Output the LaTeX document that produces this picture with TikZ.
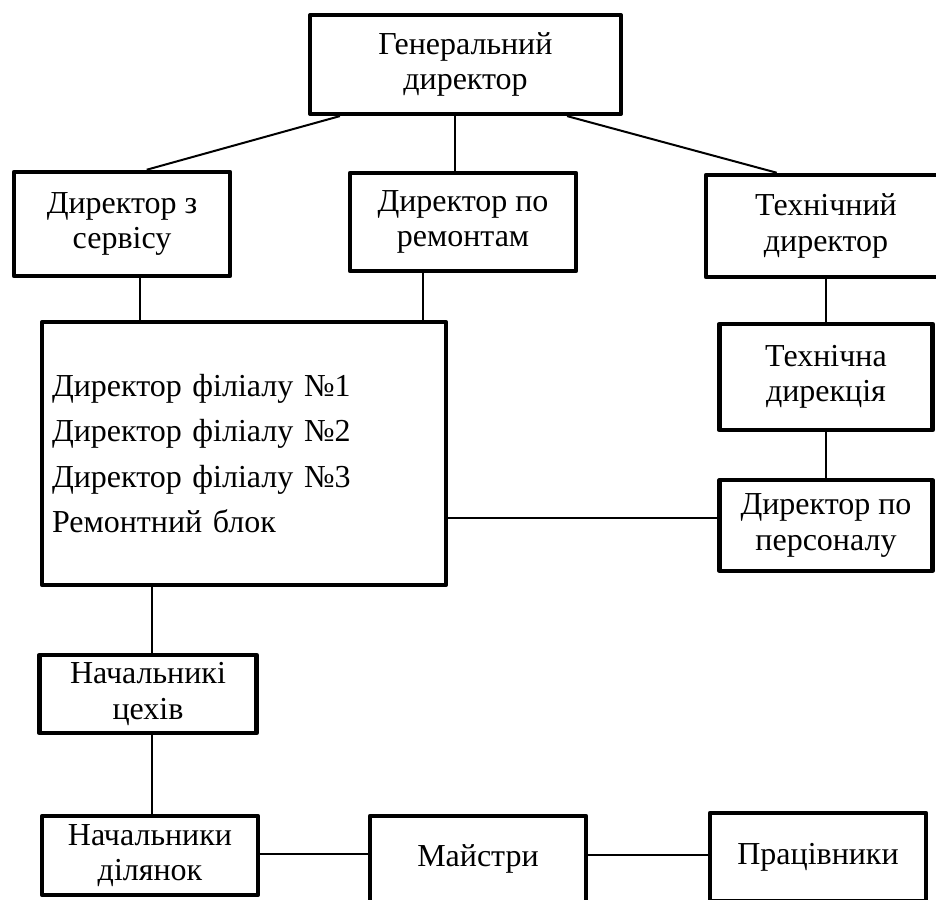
\documentclass[tikz,border=0pt]{standalone}
\usepackage{fontspec}
\setmainfont{Liberation Serif}
\usepackage{tikz}
\usetikzlibrary{positioning,calc}

\begin{document}
\begin{tikzpicture}[
    x=0.75pt, y=-0.75pt,
    orgbox/.style={rectangle, draw=black, line width=3.4pt, line join=round,
                 inner sep=2pt, align=center,
                 font=\fontsize{24}{26.5}\selectfont},
    conn/.style={black, line width=1.5pt},
  ]
    \useasboundingbox (0,0) rectangle (936,900);
    \clip (0,0) rectangle (936,900);

    \node[orgbox, minimum width=233pt, minimum height=74pt]   (gen)  at (465.5,64.5) {Генеральний\\директор};
    \node[orgbox, minimum width=162pt, minimum height=78pt]   (serv) at (122,224)    {Директор з\\сервісу};
    \node[orgbox, minimum width=169.5pt, minimum height=73.5pt] (rem) at (463,222)   {Директор по\\ремонтам};
    \node[orgbox, minimum width=180pt, minimum height=76.5pt] (tech) at (826,226)    {Технічний\\директор};
    \node[orgbox, minimum width=160pt, minimum height=79.5pt] (tdir) at (826,377)    {Технічна\\дирекція};
    \node[orgbox, minimum width=160pt, minimum height=68pt]   (pers) at (826,525.5)  {Директор по\\персоналу};
    \node[orgbox, align=left, text width=288pt, inner xsep=7.5pt, minimum height=197pt,
          font=\fontsize{24}{34}\selectfont] (filia) at (244,453.5)
          {Директор філіалу №1\\Директор філіалу №2\\Директор філіалу №3\\Ремонтний блок};
    \node[orgbox, minimum width=163pt, minimum height=58.5pt] (ceh)  at (148,694)    {Начальникі\\цехів};
    \node[orgbox, minimum width=162pt, minimum height=59pt]   (dil)  at (150,855.5)  {Начальники\\ділянок};
    \node[orgbox, minimum width=162pt, minimum height=64.5pt] (mays) at (478,859)    {Майстри};
    \node[orgbox, minimum width=162pt, minimum height=66pt]   (prac) at (818,857)    {Працівники};

    % top level
    \draw[conn] ($(gen.south west)+(32,0)$) -- ($(serv.north west)+(135,0)$);
    \draw[conn] ($(gen.south)+(-10.5,0)$) coordinate (g1) -- (g1 |- rem.north);
    \draw[conn] ($(gen.south east)+(-56,0)$) -- ($(tech.north west)+(73,0)$);

    % into the branch block
    \draw[conn] ($(serv.south)+(18,0)$) coordinate (s1) -- (s1 |- filia.north);
    \draw[conn] ($(rem.south)+(-40,0)$) coordinate (r1) -- (r1 |- filia.north);
    \draw[conn] ($(pers.west)+(0,-7.5)$) coordinate (p1) -- (p1 -| filia.east);

    % technical line
    \draw[conn] (tech.south) -- (tdir.north);
    \draw[conn] (tdir.south) -- (pers.north);

    % down the shop floor
    \draw[conn] ($(ceh.north)+(4,0)$) coordinate (c1) -- (c1 |- filia.south);
    \draw[conn] ($(ceh.south)+(4,0)$) coordinate (c2) -- (c2 |- dil.north);
    \draw[conn] ($(dil.east)+(0,-1.5)$) coordinate (d1) -- (d1 -| mays.west);
    \draw[conn] ($(prac.west)+(0,-2)$) coordinate (m1) -- (m1 -| mays.east);
  \end{tikzpicture}
\end{document}
